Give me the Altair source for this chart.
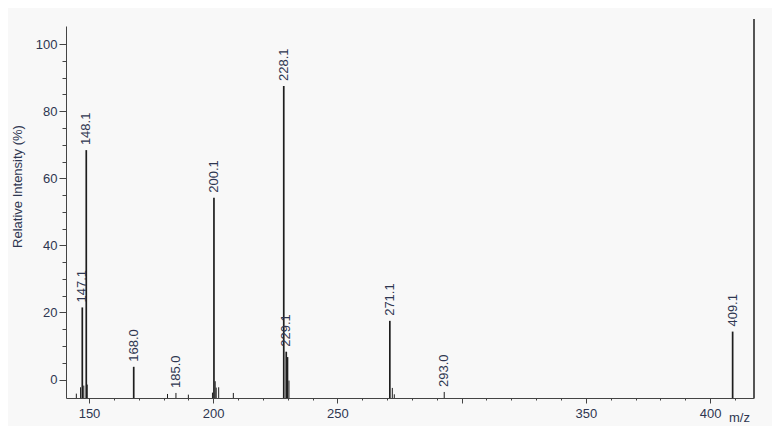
import altair as alt
import pandas as pd

# ---- data (positions as drawn) ----
mz = [144.9, 146.6, 147.3, 147.9, 148.9, 149.3, 168.0, 181.6, 185.0, 190.0,
      199.7, 200.3, 200.8, 201.2, 202.2, 208.1, 228.4, 229.4, 229.9, 230.5,
      271.1, 272.1, 272.9, 293.0, 409.1]
intensity = [-4.2, -2.3, 21.5, -1.8, 68.4, -1.5, 3.8, -4.3, -4.0, -4.5,
             -3.9, 54.2, -0.5, -2.4, -2.3, -4.0, 87.5, 8.3, 6.7, -0.3,
             17.5, -2.5, -4.4, -3.7, 14.3]
labels = ["", "", "147.1", "", "148.1", "", "168.0", "", "185.0", "",
          "", "200.1", "", "", "", "", "228.1", "229.1", "", "",
          "271.1", "", "", "293.0", "409.1"]

x_major = [150, 200, 250, 300, 350, 400]
x_minor = list(range(150, 420, 10))
y_major = [0, 20, 40, 60, 80, 100]
y_minor = list(range(0, 105, 5))

X_DOMAIN = [140.74, 417.7]
Y_DOMAIN = [-5.5, 105.4]

df = pd.DataFrame({"mz": mz, "intensity": intensity, "label": labels})

W, H = 688, 372
TEXT = "#2e3650"
AXIS = "#444444"
FONT = "Liberation Sans"

x_scale = alt.Scale(domain=X_DOMAIN, nice=False, zero=False)
y_scale = alt.Scale(domain=Y_DOMAIN, nice=False, zero=False)

x_axis_major = alt.Axis(
    values=x_major,
    labelExpr="datum.value === 300 ? '' : datum.label",
    format="d",
    tickSize=5,
    labelPadding=4,
    labelFontSize=13,
    labelColor=TEXT,
    labelFont=FONT,
    domainColor=AXIS,
    tickColor=AXIS,
    grid=False,
    title="m/z",
    titleFont=FONT,
    titleFontSize=13,
    titleFontWeight="normal",
    titleColor=TEXT,
    titleX=673,
    titleY=23,
    titleAlign="center",
    titleBaseline="alphabetic",
    labelFlush=False,
    labelOverlap=False,
    orient="bottom",
)

x_axis_minor = alt.Axis(
    values=x_minor,
    labels=False,
    domain=False,
    tickSize=2,
    tickColor=AXIS,
    grid=False,
    title=None,
    orient="bottom",
)

y_axis_major = alt.Axis(
    values=y_major,
    format="d",
    tickSize=7,
    labelPadding=2,
    labelFontSize=13,
    labelColor=TEXT,
    labelFont=FONT,
    domainColor=AXIS,
    tickColor=AXIS,
    grid=False,
    title="Relative Intensity (%)",
    titleFont=FONT,
    titleFontSize=13,
    titleFontWeight="normal",
    titleColor=TEXT,
    titleAngle=270,
    titleX=-49,
    titleY=160,
    titleAlign="center",
    titleBaseline="middle",
    labelFlush=False,
    labelOverlap=False,
    orient="left",
)

y_axis_minor = alt.Axis(
    values=y_minor,
    labels=False,
    domain=False,
    tickSize=4,
    tickColor=AXIS,
    grid=False,
    title=None,
    orient="left",
)

bars = alt.Chart(df).mark_rule(color="#1e1e1e").encode(
    x=alt.X("mz:Q", scale=x_scale, axis=x_axis_major),
    y=alt.Y("intensity:Q", scale=y_scale, axis=y_axis_major),
    y2=alt.datum(Y_DOMAIN[0]),
    strokeWidth=alt.condition("datum.intensity > 0", alt.value(1.7), alt.value(1.0)),
)

text = alt.Chart(df).transform_filter("datum.label != ''").mark_text(
    angle=270, align="left", baseline="middle", dx=5,
    fontSize=13, font=FONT, color=TEXT,
).encode(
    x=alt.X("mz:Q", scale=x_scale, axis=x_axis_minor),
    y=alt.Y("intensity:Q", scale=y_scale, axis=y_axis_minor),
    text="label:N",
)

frame = alt.Chart(df).mark_rule(color="#555555", strokeWidth=2).encode(
    x=alt.value(W), y=alt.value(-7), y2=alt.value(H)
)

chart = alt.layer(bars, text, frame).resolve_axis(
    x="independent", y="independent"
).properties(
    width=W, height=H,
    background="#f8f8f8",
    autosize=alt.AutoSizeParams(type="none"),
    padding={"left": 58, "top": 18, "right": 18, "bottom": 28},
).configure_view(stroke=None)

chart.save("out.html", embed_options={"renderer": "svg", "actions": False})
